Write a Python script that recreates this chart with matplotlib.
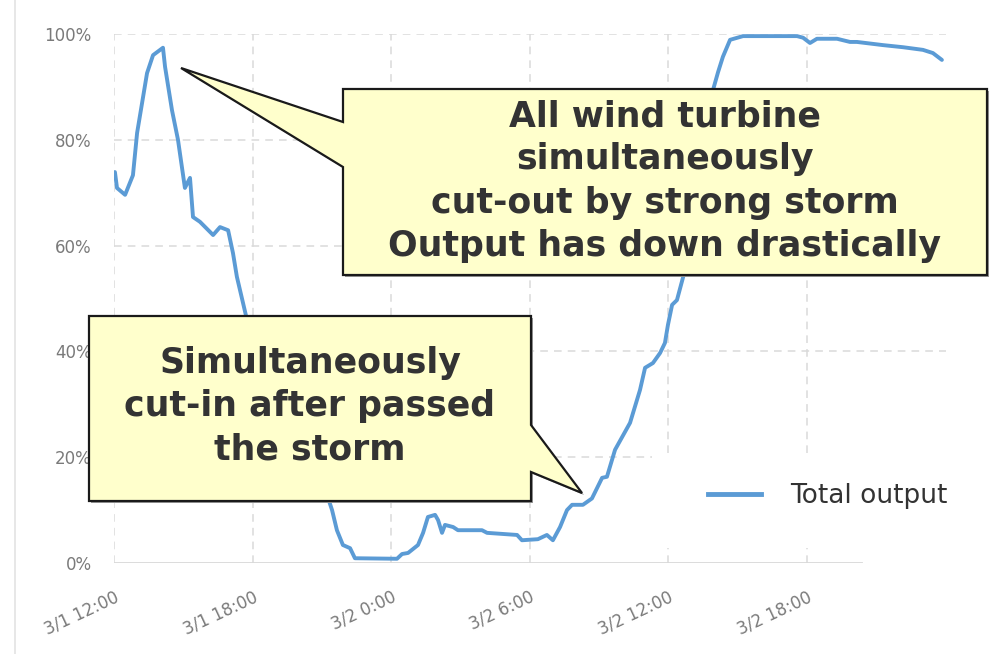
import matplotlib
matplotlib.use("Agg")
import matplotlib.pyplot as plt
import matplotlib.transforms as mtransforms
from matplotlib.patches import Polygon, Rectangle
from matplotlib.lines import Line2D

# hours after 3/1 12:00 and total output (%)
hours = [0.04, 0.13, 0.48, 0.82, 1.00, 1.43, 1.69, 2.12, 2.21, 2.51, 2.77, 3.07, 3.29, 3.42,
         3.72, 4.29, 4.59, 4.94, 5.15, 5.32, 5.76, 6.32, 6.97, 7.62, 8.27, 8.83, 9.22, 9.44,
         9.65, 9.91, 10.22, 10.43, 12.25, 12.47, 12.73, 13.16, 13.38, 13.59, 13.90, 14.03,
         14.20, 14.33, 14.68, 14.89, 15.93, 16.15, 17.45, 17.66, 18.35, 18.74, 19.00, 19.31,
         19.61, 19.83, 20.30, 20.69, 21.13, 21.34, 21.69, 22.34, 22.77, 22.99, 23.33, 23.64,
         23.85, 23.98, 24.16, 24.37, 24.72, 25.15, 25.58, 25.93, 26.15, 26.36, 26.67, 27.23,
         28.40, 29.57, 29.83, 30.13, 30.43, 31.30, 31.86, 32.16, 33.29, 34.16, 35.02, 35.45,
         35.84]
output = [73.9, 70.9, 69.6, 73.3, 81.3, 92.6, 96.0, 97.4, 93.8, 85.6, 80.0, 70.9, 72.8, 65.4,
          64.5, 62.0, 63.5, 62.9, 58.6, 54.1, 45.9, 38.4, 30.8, 25.1, 20.4, 15.7, 12.9, 10.0,
          6.2, 3.4, 2.8, 0.9, 0.8, 1.7, 1.9, 3.4, 5.7, 8.7, 9.1, 8.1,
          5.7, 7.2, 6.8, 6.2, 6.2, 5.7, 5.3, 4.3, 4.5, 5.3, 4.3, 6.8,
          10.0, 11.0, 11.0, 12.2, 16.1, 16.3, 21.4, 26.5, 32.7, 36.9, 37.8, 39.7,
          41.6, 45.0, 48.8, 49.7, 55.4, 66.7, 80.0, 89.4, 92.8, 95.7, 98.9, 99.6,
          99.6, 99.6, 99.3, 98.3, 99.1, 99.1, 98.5, 98.5, 97.9, 97.5, 97.0, 96.4,
          95.1]

tick_hours = [0, 6, 12, 18, 24, 30]
tick_labels = ["3/1 12:00", "3/1 18:00", "3/2 0:00", "3/2 6:00", "3/2 12:00", "3/2 18:00"]
y_ticks = [0, 20, 40, 60, 80, 100]
y_labels = ["0%", "20%", "40%", "60%", "80%", "100%"]

note_out = "All wind turbine\nsimultaneously\ncut-out by strong storm\nOutput has down drastically"
note_in = "Simultaneously\ncut-in after passed\nthe storm"

W, H = 1002, 654
fig = plt.figure(figsize=(W / 100, H / 100), dpi=100)


def px(x, y):
    # pixel (from top-left) -> figure fraction
    return (x / W, 1 - y / H)


ax = fig.add_axes([114 / W, 91 / H, 831.6 / W, 529 / H])
ax.plot(hours, output, color="#5B9BD5", lw=2.8, solid_capstyle="round", zorder=3)
ax.set_xlim(0, 36)
ax.set_ylim(0, 100)
for s in ax.spines.values():
    s.set_visible(False)

ax.set_xticks(tick_hours)
ax.set_xticklabels(tick_labels, rotation=25, ha="right", rotation_mode="anchor",
                   fontsize=12, color="#7a7a7a")
# nudge the slanted labels a bit to the left, like the original
shift = mtransforms.ScaledTranslation(-6 / 72, 0, fig.dpi_scale_trans)
for lbl in ax.get_xticklabels():
    lbl.set_transform(lbl.get_transform() + shift)
ax.set_yticks(y_ticks)
ax.set_yticklabels(y_labels, fontsize=12, color="#7a7a7a")
ax.tick_params(axis="both", length=0)
ax.tick_params(axis="x", pad=18)
ax.tick_params(axis="y", pad=16)
for v in y_ticks[1:]:
    ax.axhline(v, color="#dadada", lw=1.1, dashes=(5, 4), zorder=1)
for h in tick_hours:
    ax.axvline(h, color="#dadada", lw=1.1, dashes=(5, 4), zorder=1)
ax.axhline(0, xmax=32.4 / 36, color="#d9d9d9", lw=1.3, zorder=2)

# white area behind the legend
fig.add_artist(Rectangle(px(652, 548), 350 / W, 95 / H, transform=fig.transFigure,
                         facecolor="white", edgecolor="none", zorder=1))
handle = Line2D([], [], color="#5B9BD5", lw=3.5)
fig.legend([handle], ["Total output"], loc="center left", bbox_to_anchor=px(708, 496),
           frameon=False, fontsize=19, handlelength=2.0, handletextpad=1.1,
           borderpad=0, borderaxespad=0, labelcolor="#333333")

# callouts
box_out = [(343, 89), (987, 89), (987, 275), (343, 275), (343, 167), (181, 68), (343, 122)]
box_in = [(89, 316), (531, 316), (531, 425), (582, 493), (531, 472), (531, 501), (89, 501)]
for pts in (box_out, box_in):
    shadow = [px(x + 2, y + 2) for x, y in pts]
    fig.add_artist(Polygon(shadow, closed=True, transform=fig.transFigure,
                           facecolor="#9a9a9a", edgecolor="none", zorder=2))
    fig.add_artist(Polygon([px(x, y) for x, y in pts], closed=True, transform=fig.transFigure,
                           facecolor="#FFFFCC", edgecolor="#1a1a1a", lw=1.6, zorder=3))

fig.text(*px(665, 181), note_out, ha="center", va="center", fontsize=25, fontweight="bold",
         color="#333333", linespacing=1.34, zorder=4)
fig.text(*px(310, 406), note_in, ha="center", va="center", fontsize=25, fontweight="bold",
         color="#333333", linespacing=1.34, zorder=4)

fig.add_artist(Line2D([15 / W, 15 / W], [0, 1], color="#e3e3e3", lw=1.2, zorder=0))

fig.savefig("out.png", dpi=100)
